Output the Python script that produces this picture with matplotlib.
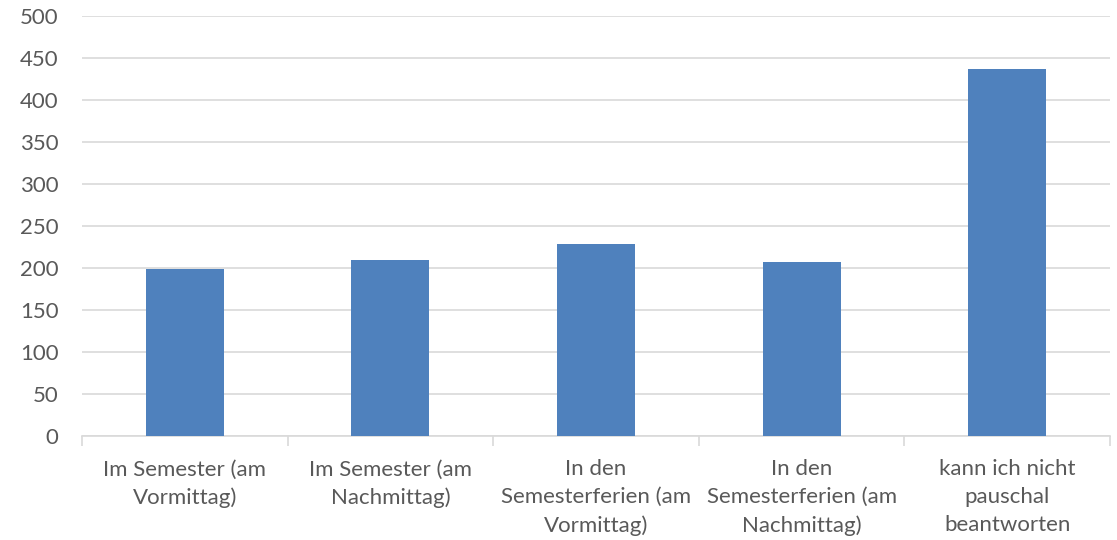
import matplotlib.pyplot as plt
import numpy as np

categories = ["Im Semester (am\nVormittag)",
              "Im Semester (am\nNachmittag)",
              "In den\nSemesterferien (am\nVormittag)",
              "In den\nSemesterferien (am\nNachmittag)",
              "kann ich nicht\npauschal\nbeantworten"]
values = [199, 210, 229, 207, 437]
yticks = [0, 50, 100, 150, 200, 250, 300, 350, 400, 450, 500]

plt.rcParams['font.family'] = ['Lato', 'DejaVu Sans']
text_color = "#595959"
grid_color = "#d9d9d9"

fig = plt.figure(figsize=(11.17, 5.4), dpi=100)
ax = fig.add_axes([0.0734, 0.193, 0.9203, 0.777])

x = np.arange(len(categories))
ax.bar(x, values, width=0.38, color="#4f81bd", zorder=3)

ax.set_xlim(-0.5, len(categories) - 0.5)
ax.set_ylim(0, 500)
ax.set_yticks(yticks)
ax.set_yticklabels([str(v) for v in yticks], fontsize=16, color=text_color)
ax.yaxis.grid(True, color=grid_color, lw=1.2, zorder=0)
ax.tick_params(axis="y", length=0, pad=17)

# category labels, with tick marks at the boundaries
ax.set_xticks(x)
ax.set_xticklabels(categories, fontsize=16, color=text_color, linespacing=1.48)
ax.tick_params(axis="x", which="major", length=0, pad=17)
ax.set_xticks(np.arange(-0.5, len(categories)), minor=True)
ax.tick_params(axis="x", which="minor", length=7, color=grid_color, width=1.2)

for side in ["top", "right", "left"]:
    ax.spines[side].set_visible(False)
ax.spines["bottom"].set_color(grid_color)
ax.spines["bottom"].set_linewidth(1.2)

plt.savefig("out.png", dpi=100)
